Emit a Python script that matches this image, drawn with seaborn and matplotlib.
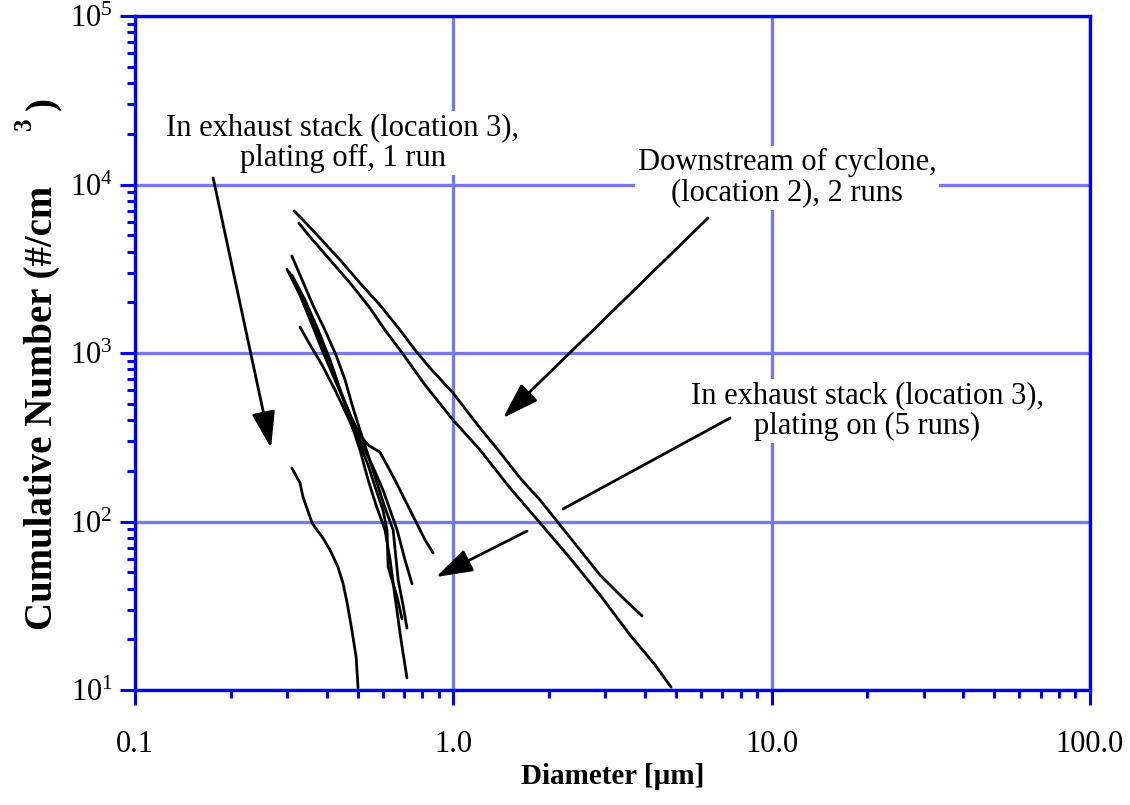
import numpy as np
import pandas as pd
import matplotlib
matplotlib.use("Agg")
import matplotlib.pyplot as plt
import seaborn as sns
from matplotlib.ticker import FixedLocator, FixedFormatter, LogLocator, NullFormatter

# ---------------- data ----------------
# Downstream of cyclone (location 2), 2 runs
down1_d = [0.316, 0.342, 0.381, 0.441, 0.509, 0.588, 0.680, 0.758, 0.845, 0.998, 1.213, 1.382,
           1.621, 1.873, 2.164, 2.501, 2.890, 3.340, 3.915]
down1_n = [6963, 5990, 4814, 3564, 2603, 1927, 1369, 1042, 815, 579, 359, 266,
           181, 134, 95.3, 67.7, 48.1, 36.6, 27.5]
down2_d = [0.327, 0.355, 0.410, 0.474, 0.547, 0.610, 0.680, 0.815, 0.998, 1.213, 1.507, 1.873,
           2.326, 2.890, 3.591, 4.302, 4.831]
down2_n = [5909, 4880, 3564, 2603, 1850, 1369, 1042, 646, 400, 266, 158, 98,
           60.7, 36.6, 21.2, 14.1, 10.4]

# In exhaust stack (location 3), plating on, 5 runs
on1_d = [0.311, 0.342, 0.376, 0.410, 0.441, 0.474, 0.509, 0.540, 0.588, 0.619, 0.656, 0.705,
         0.758, 0.815, 0.864]
on1_n = [2904, 2063, 1369, 909, 603, 429, 326, 284, 258, 216, 176, 134, 102, 77.7, 65]
on2_d = [0.300, 0.330, 0.355, 0.387, 0.425, 0.467, 0.509, 0.556, 0.601, 0.633, 0.666, 0.705, 0.742]
on2_n = [3151, 2209, 1570, 1042, 692, 459, 305, 216, 154, 117, 89, 59.1, 42.6]
on3_d = [0.330, 0.355, 0.387, 0.425, 0.463, 0.502, 0.540, 0.572, 0.601, 0.619, 0.624, 0.666, 0.690]
on3_n = [1426, 1116, 849, 603, 429, 305, 216, 154, 117, 89, 53.7, 35.6, 26.4]
on4_d = [0.311, 0.335, 0.362, 0.395, 0.428, 0.457, 0.481, 0.509, 0.540, 0.572, 0.606, 0.647,
         0.671, 0.695, 0.715]
on4_n = [3765, 2713, 1927, 1369, 973, 692, 491, 349, 248, 176, 125, 89, 45, 31.9, 23.3]
on5_d = [0.305, 0.330, 0.355, 0.381, 0.410, 0.441, 0.474, 0.509, 0.540, 0.572, 0.610, 0.633,
         0.656, 0.685, 0.715]
on5_n = [3025, 2209, 1613, 1195, 884, 603, 400, 266, 176, 125, 89, 59.1, 35.6, 19.8, 11.8]

# In exhaust stack (location 3), plating off, 1 run
off_d = [0.311, 0.330, 0.337, 0.360, 0.373, 0.389, 0.410, 0.434, 0.450, 0.464, 0.480, 0.495, 0.502]
off_n = [208, 169, 140, 98, 89, 80, 67.7, 53.7, 43.2, 32.8, 22.7, 15.7, 10.3]

x_ticks = [0.1, 1.0, 10.0, 100.0]
x_ticklabels = ["0.1", "1.0", "10.0", "100.0"]
y_ticks = [1e1, 1e2, 1e3, 1e4, 1e5]

x_title = "Diameter [µm]"
y_title = "Cumulative Number (#/cm"
label_off = "In exhaust stack (location 3),\nplating off, 1 run"
label_down = "Downstream of cyclone,\n(location 2), 2 runs"
label_on = "In exhaust stack (location 3),\nplating on (5 runs)"

# ---------------- table ----------------
series = {
    "down1": (down1_d, down1_n), "down2": (down2_d, down2_n),
    "on1": (on1_d, on1_n), "on2": (on2_d, on2_n), "on3": (on3_d, on3_n),
    "on4": (on4_d, on4_n), "on5": (on5_d, on5_n), "off": (off_d, off_n),
}
rows = []
for run, (dd, nn) in series.items():
    for i, (d, n) in enumerate(zip(dd, nn)):
        rows.append({"run": run, "order": i, "diameter": d, "number": n})
df = pd.DataFrame(rows)

# ---------------- style ----------------
sns.set_style("white")
plt.rcParams["font.family"] = ["Liberation Serif", "DejaVu Serif"]
plt.rcParams["mathtext.fontset"] = "custom"
plt.rcParams["mathtext.rm"] = "Liberation Serif"
plt.rcParams["mathtext.default"] = "regular"
plt.rcParams["text.color"] = "black"
plt.rcParams["axes.labelcolor"] = "black"
plt.rcParams["xtick.color"] = "black"
plt.rcParams["ytick.color"] = "black"

BLUE = "#0000ee"
GRID = "#7878ee"

fig = plt.figure(figsize=(11.3, 8.05), dpi=100)
ax = fig.add_axes([135 / 1130, 1 - 690 / 805, (1090 - 135) / 1130, (690 - 16) / 805])

sns.lineplot(data=df, x="diameter", y="number", units="run", estimator=None, sort=False,
             color="black", linewidth=2.0, legend=False, ax=ax, zorder=3)

ax.set_xscale("log")
ax.set_yscale("log")
ax.set_xlim(0.1, 100)
ax.set_ylim(10, 1e5)

ax.xaxis.set_major_locator(FixedLocator(x_ticks))
ax.xaxis.set_major_formatter(FixedFormatter(x_ticklabels))
ax.xaxis.set_minor_locator(LogLocator(base=10, subs=np.arange(2, 10)))
ax.xaxis.set_minor_formatter(NullFormatter())
ax.yaxis.set_major_locator(FixedLocator(y_ticks))
ax.yaxis.set_minor_locator(LogLocator(base=10, subs=np.arange(2, 10)))
ax.yaxis.set_minor_formatter(NullFormatter())

ax.grid(which="major", color=GRID, linewidth=2.4, zorder=1)
ax.grid(which="minor", visible=False)
ax.set_axisbelow(True)

for s in ax.spines.values():
    s.set_color(BLUE)
    s.set_linewidth(2.4)
    s.set_zorder(4)

ax.tick_params(which="both", bottom=True, left=True, top=False, right=False, direction="out",
               color=BLUE, width=2.2, labelcolor="black")
ax.tick_params(which="major", length=11, labelsize=22)
ax.tick_params(which="minor", length=6)
ax.tick_params(axis="x", which="major", pad=18)
ax.tick_params(axis="y", which="major", pad=5)

ax.set_xlabel(x_title, fontsize=21, fontweight="bold", labelpad=3)
ax.set_ylabel("")
fig.text(42 / 1130, 1 - 408 / 805, y_title, fontsize=28, fontweight="bold", rotation=90,
         ha="center", va="center")
fig.text(44 / 1130, 1 - 104 / 805, ")", fontsize=28, fontweight="bold", rotation=90,
         ha="center", va="center")
fig.text(24 / 1130, 1 - 124 / 805, "3", fontsize=18, fontweight="bold", rotation=90,
         ha="center", va="center")

# ---------------- annotations ----------------
box = dict(facecolor="white", edgecolor="none", pad=2)
ax.text(0.450, 17600, label_off, fontsize=22, ha="center", va="center", multialignment="center",
        linespacing=1.05, bbox=box, zorder=5)
ax.text(11.18, 10930, label_down, fontsize=22, ha="center", va="center", multialignment="center",
        linespacing=1.05, bbox=box, zorder=5)
ax.text(19.93, 452.6, label_on, fontsize=22, ha="center", va="center", multialignment="center",
        linespacing=1.05, bbox=box, zorder=5)

head = dict(arrowstyle="-|>,head_length=1.4,head_width=0.45", color="black", lw=2.0,
            shrinkA=0, shrinkB=0, mutation_scale=16)
ax.annotate("", xy=(0.2675, 273), xytext=(0.176, 10930), arrowprops=head, zorder=6)
ax.annotate("", xy=(1.432, 411), xytext=(6.31, 6327), arrowprops=head, zorder=6)
ax.annotate("", xy=(2.211, 118.7), xytext=(7.40, 411),
            arrowprops=dict(arrowstyle="-", color="black", lw=2.0, shrinkA=0, shrinkB=0), zorder=6)
ax.annotate("", xy=(0.882, 46.8), xytext=(1.704, 87.8), arrowprops=head, zorder=6)

fig.savefig("out.png", dpi=100, facecolor="white")
